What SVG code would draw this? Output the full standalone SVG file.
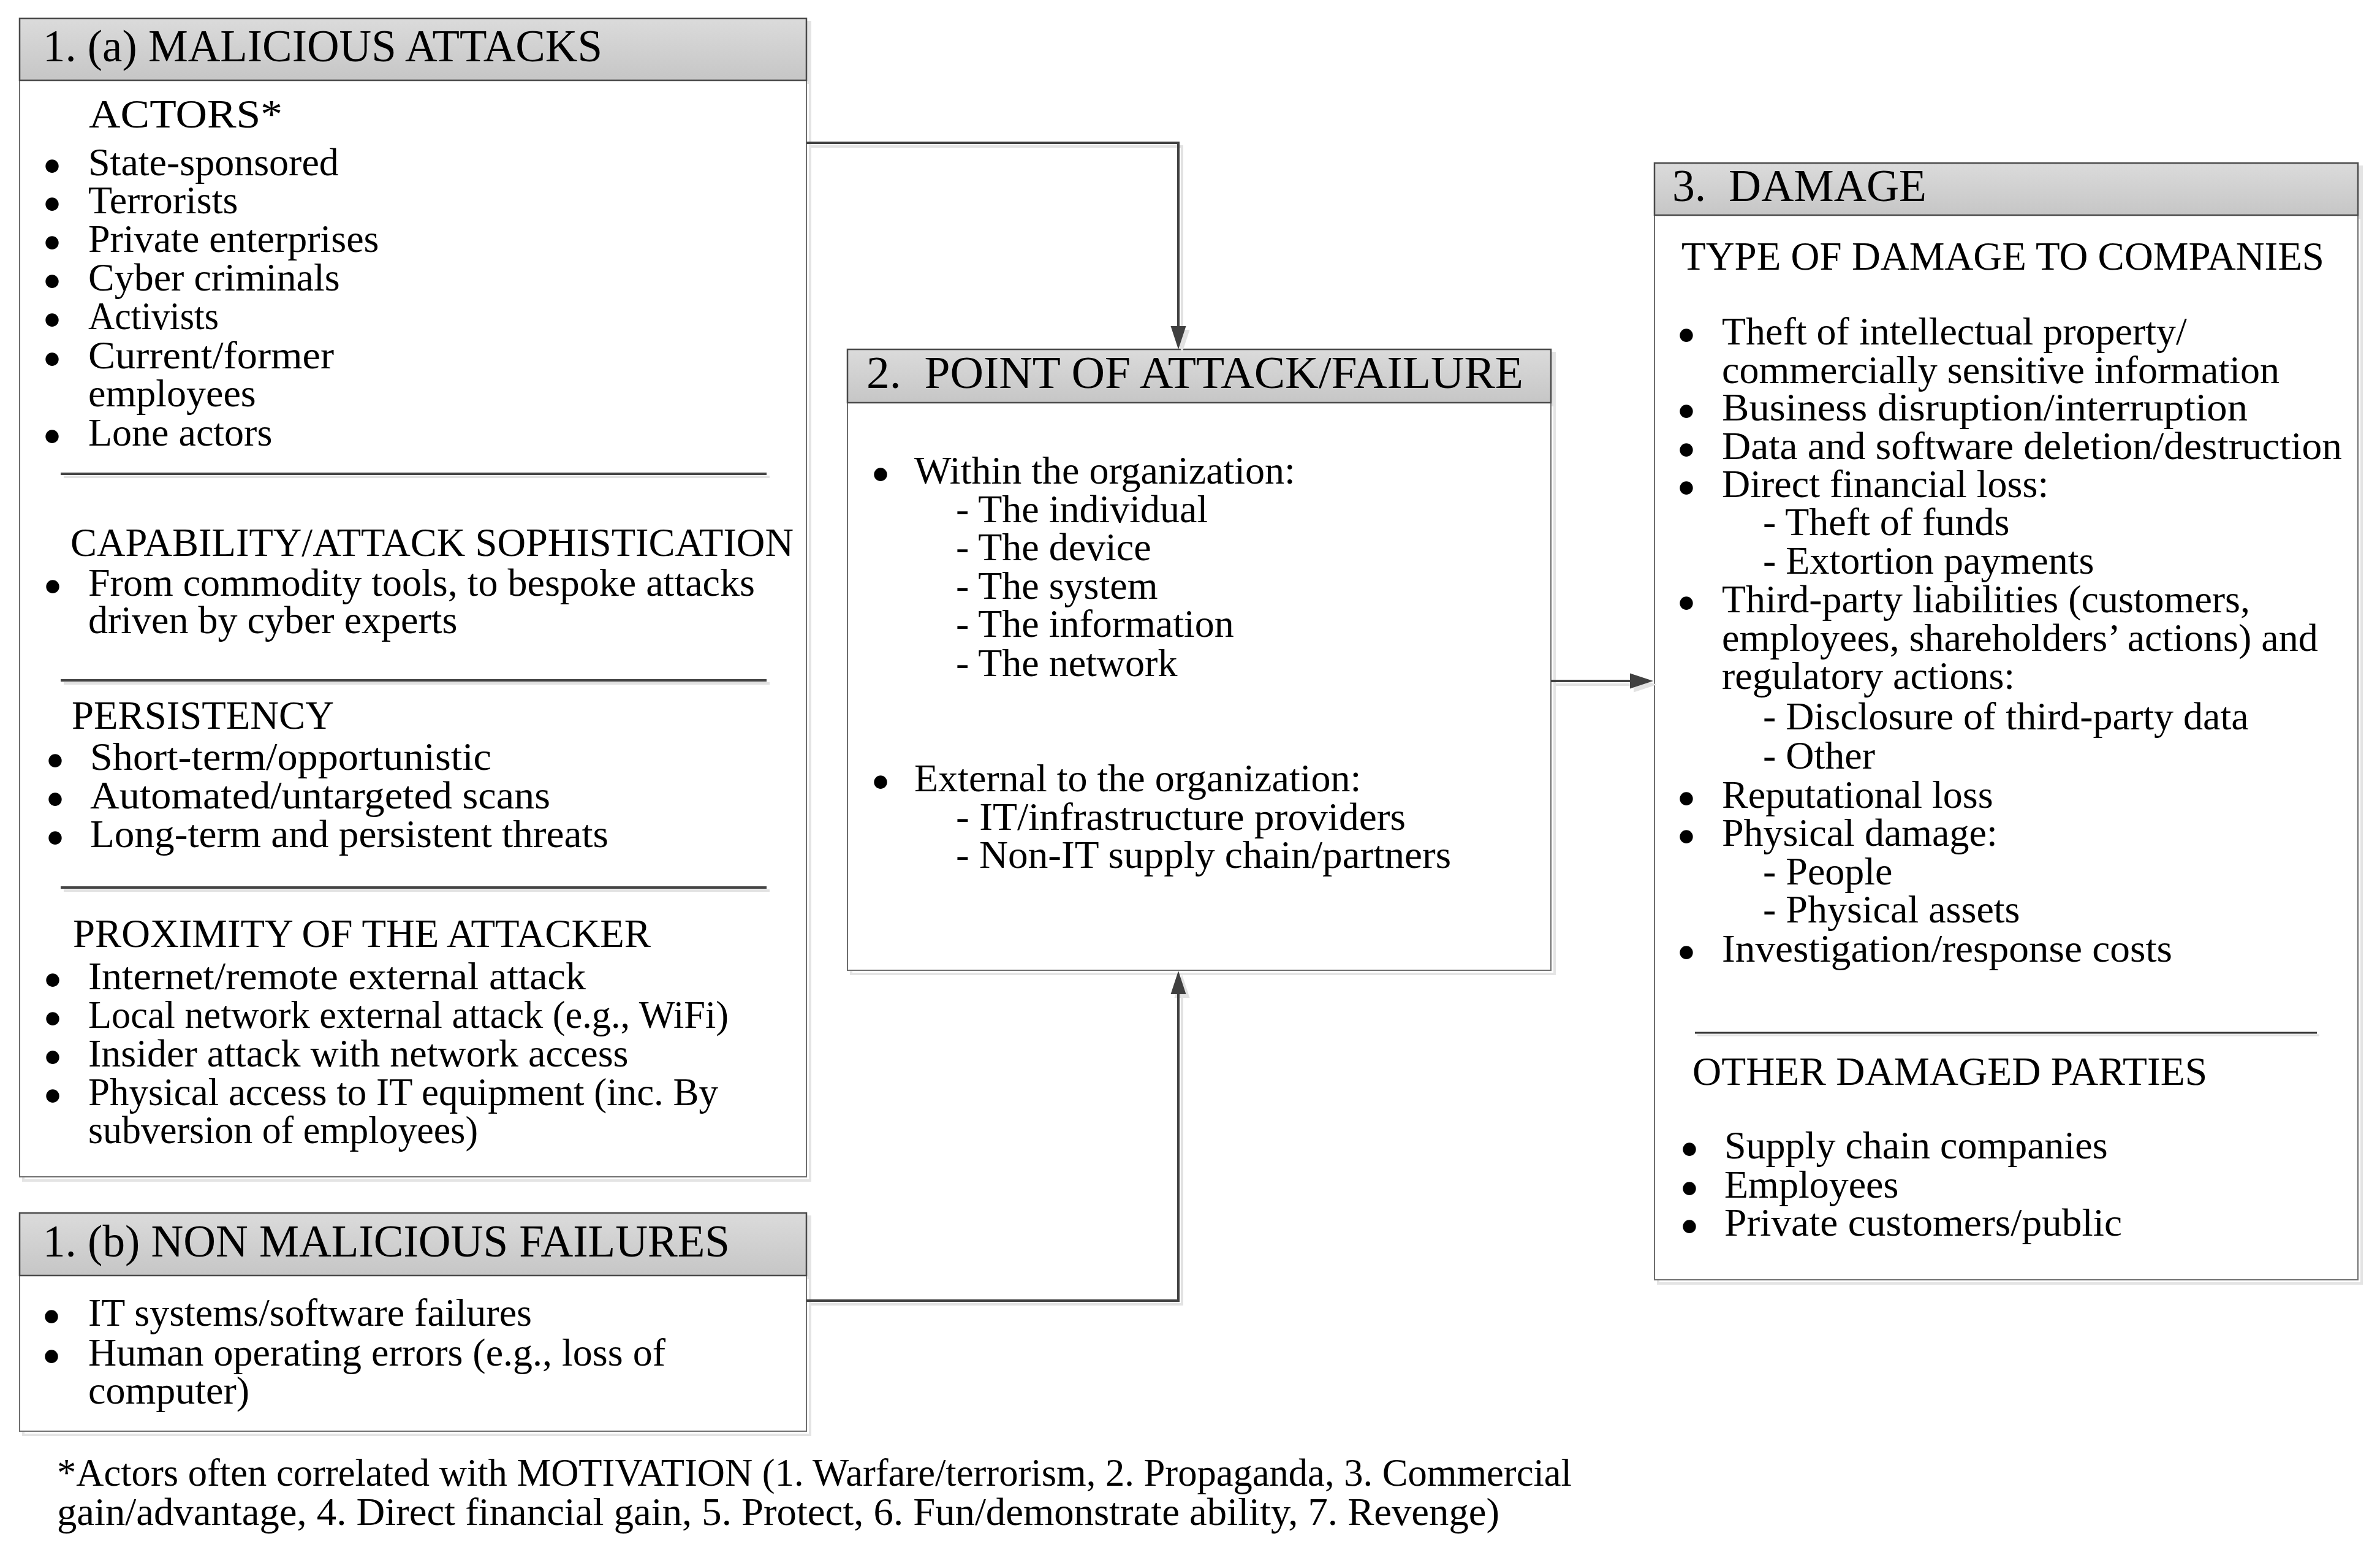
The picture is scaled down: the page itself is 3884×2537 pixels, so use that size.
<svg xmlns="http://www.w3.org/2000/svg" width="3884" height="2537" viewBox="0 0 3884 2537">
  <defs>
    <linearGradient id="hdr" x1="0" y1="0" x2="0" y2="1">
      <stop offset="0" stop-color="#dbdbdb"/>
      <stop offset="1" stop-color="#c6c6c6"/>
    </linearGradient>
    <marker id="arr" markerUnits="userSpaceOnUse" markerWidth="40" markerHeight="28" refX="0" refY="12.5" orient="auto" overflow="visible">
      <path d="M0,0 L38,12.5 L0,25 Z" fill="#404040"/>
    </marker>
    <marker id="arrs" markerUnits="userSpaceOnUse" markerWidth="40" markerHeight="28" refX="0" refY="12.5" orient="auto" overflow="visible">
      <path d="M0,0 L38,12.5 L0,25 Z" fill="#e2e2e2"/>
    </marker>
  </defs>
  <style>
    text { font-family: "Liberation Serif", "Times New Roman", serif; fill: #000; }
    .h { font-size: 73px; }
    .s { font-size: 65px; }
    .b { font-size: 64px; }
    .bul { font-size: 90px; text-anchor: middle; }
    .body { fill: #fff; stroke: #6e6e6e; stroke-width: 2; }
    .head { fill: url(#hdr); stroke: #4a4a4a; stroke-width: 2.5; }
    .shb { fill: none; stroke: #e4e4e4; stroke-width: 4; }
    .shh { fill: #e4e4e4; stroke: none; }
    .sep { stroke: #444; stroke-width: 4; }
    .seps { stroke: #e2e2e2; stroke-width: 4; }
    .con { fill: none; stroke: #404040; stroke-width: 4; }
    .cons { fill: none; stroke: #e2e2e2; stroke-width: 4; }
  </style>
  <rect width="3884" height="2537" fill="#fff"/>

  <g id="node-1a">
    <rect class="shb" x="38" y="36" width="1284" height="1890"/>
    <rect class="shh" x="38" y="36" width="1284" height="101"/>
    <rect class="body" x="32" y="30" width="1284" height="1890"/>
    <rect class="head" x="32" y="30" width="1284" height="101"/>
    <text class="h" x="70" y="100" textLength="913" lengthAdjust="spacingAndGlyphs">1. (a) MALICIOUS ATTACKS</text>
    <text class="s" x="145" y="208" textLength="316" lengthAdjust="spacingAndGlyphs">ACTORS*</text>
    <g class="b">
      <text class="bul" x="85" y="301">•</text><text x="144" y="286">State-sponsored</text>
      <text class="bul" x="85" y="363">•</text><text x="144" y="348">Terrorists</text>
      <text class="bul" x="85" y="426">•</text><text x="144" y="411">Private enterprises</text>
      <text class="bul" x="85" y="489">•</text><text x="144" y="474">Cyber criminals</text>
      <text class="bul" x="85" y="552">•</text><text x="144" y="537" textLength="213" lengthAdjust="spacingAndGlyphs">Activists</text>
      <text class="bul" x="85" y="616">•</text><text x="144" y="601" textLength="401" lengthAdjust="spacingAndGlyphs">Current/former</text>
      <text x="144" y="663">employees</text>
      <text class="bul" x="85" y="742">•</text><text x="144" y="727">Lone actors</text>
    </g>
    <line class="seps" x1="104" y1="778" x2="1256" y2="778"/>
    <line class="sep" x1="99" y1="773" x2="1251" y2="773"/>
    <text class="s" x="115" y="907" textLength="1180" lengthAdjust="spacingAndGlyphs">CAPABILITY/ATTACK SOPHISTICATION</text>
    <g class="b">
      <text class="bul" x="86" y="987">•</text><text x="144" y="972">From commodity tools, to bespoke attacks</text>
      <text x="144" y="1033">driven by cyber experts</text>
    </g>
    <line class="seps" x1="104" y1="1115" x2="1256" y2="1115"/>
    <line class="sep" x1="99" y1="1110" x2="1251" y2="1110"/>
    <text class="s" x="117" y="1189" textLength="428" lengthAdjust="spacingAndGlyphs">PERSISTENCY</text>
    <g class="b">
      <text class="bul" x="90" y="1271">•</text><text x="147" y="1256" textLength="655" lengthAdjust="spacingAndGlyphs">Short-term/opportunistic</text>
      <text class="bul" x="90" y="1334">•</text><text x="147" y="1319" textLength="751" lengthAdjust="spacingAndGlyphs">Automated/untargeted scans</text>
      <text class="bul" x="90" y="1397">•</text><text x="147" y="1382" textLength="846" lengthAdjust="spacingAndGlyphs">Long-term and persistent threats</text>
    </g>
    <line class="seps" x1="104" y1="1453" x2="1256" y2="1453"/>
    <line class="sep" x1="99" y1="1448" x2="1251" y2="1448"/>
    <text class="s" x="119" y="1545" textLength="943" lengthAdjust="spacingAndGlyphs">PROXIMITY OF THE ATTACKER</text>
    <g class="b">
      <text class="bul" x="86" y="1629">•</text><text x="144" y="1614" textLength="812" lengthAdjust="spacingAndGlyphs">Internet/remote external attack</text>
      <text class="bul" x="86" y="1692">•</text><text x="144" y="1677" textLength="1045" lengthAdjust="spacingAndGlyphs">Local network external attack (e.g., WiFi)</text>
      <text class="bul" x="86" y="1755">•</text><text x="144" y="1740">Insider attack with network access</text>
      <text class="bul" x="86" y="1818">•</text><text x="144" y="1803" textLength="1028" lengthAdjust="spacingAndGlyphs">Physical access to IT equipment (inc. By</text>
      <text x="144" y="1865" textLength="636" lengthAdjust="spacingAndGlyphs">subversion of employees)</text>
    </g>
  </g>

  <g id="node-1b">
    <rect class="shb" x="38" y="1985" width="1284" height="356"/>
    <rect class="shh" x="38" y="1985" width="1284" height="102"/>
    <rect class="body" x="32" y="1979" width="1284" height="356"/>
    <rect class="head" x="32" y="1979" width="1284" height="102"/>
    <text class="h" x="70" y="2050" textLength="1121" lengthAdjust="spacingAndGlyphs">1. (b) NON MALICIOUS FAILURES</text>
    <g class="b">
      <text class="bul" x="84" y="2178">•</text><text x="144" y="2163">IT systems/software failures</text>
      <text class="bul" x="84" y="2243">•</text><text x="144" y="2228">Human operating errors (e.g., loss of</text>
      <text x="144" y="2290">computer)</text>
    </g>
  </g>

  <g id="node-2">
    <rect class="shb" x="1389" y="576" width="1148" height="1013"/>
    <rect class="shh" x="1389" y="576" width="1148" height="87"/>
    <rect class="body" x="1383" y="570" width="1148" height="1013"/>
    <rect class="head" x="1383" y="570" width="1148" height="87"/>
    <text class="h" x="1414" y="633" xml:space="preserve" textLength="1072" lengthAdjust="spacingAndGlyphs">2.  POINT OF ATTACK/FAILURE</text>
    <g class="b">
      <text class="bul" x="1437" y="804">•</text><text x="1492" y="789">Within the organization:</text>
      <text x="1560" y="852">- The individual</text>
      <text x="1560" y="914">- The device</text>
      <text x="1560" y="977">- The system</text>
      <text x="1560" y="1039">- The information</text>
      <text x="1560" y="1103">- The network</text>
      <text class="bul" x="1437" y="1306">•</text><text x="1492" y="1291">External to the organization:</text>
      <text x="1560" y="1354" textLength="734" lengthAdjust="spacingAndGlyphs">- IT/infrastructure providers</text>
      <text x="1560" y="1416" textLength="808" lengthAdjust="spacingAndGlyphs">- Non-IT supply chain/partners</text>
    </g>
  </g>

  <g id="node-3">
    <rect class="shb" x="2706" y="272" width="1148" height="1822"/>
    <rect class="shh" x="2706" y="272" width="1148" height="85"/>
    <rect class="body" x="2700" y="266" width="1148" height="1822"/>
    <rect class="head" x="2700" y="266" width="1148" height="85"/>
    <text class="h" x="2729" y="328" xml:space="preserve" textLength="415" lengthAdjust="spacingAndGlyphs">3.  DAMAGE</text>
    <text class="s" x="2744" y="440" textLength="1049" lengthAdjust="spacingAndGlyphs">TYPE OF DAMAGE TO COMPANIES</text>
    <g class="b">
      <text class="bul" x="2752" y="577">•</text><text x="2810" y="562">Theft of intellectual property/</text>
      <text x="2810" y="625">commercially sensitive information</text>
      <text class="bul" x="2752" y="701">•</text><text x="2810" y="686" textLength="858" lengthAdjust="spacingAndGlyphs">Business disruption/interruption</text>
      <text class="bul" x="2752" y="764">•</text><text x="2810" y="749" textLength="1012" lengthAdjust="spacingAndGlyphs">Data and software deletion/destruction</text>
      <text class="bul" x="2752" y="826">•</text><text x="2810" y="811">Direct financial loss:</text>
      <text x="2877" y="873">- Theft of funds</text>
      <text x="2877" y="936">- Extortion payments</text>
      <text class="bul" x="2752" y="1014">•</text><text x="2810" y="999">Third-party liabilities (customers,</text>
      <text x="2810" y="1062">employees, shareholders’ actions) and</text>
      <text x="2810" y="1124">regulatory actions:</text>
      <text x="2877" y="1190">- Disclosure of third-party data</text>
      <text x="2877" y="1254">- Other</text>
      <text class="bul" x="2752" y="1333">•</text><text x="2810" y="1318">Reputational loss</text>
      <text class="bul" x="2752" y="1395">•</text><text x="2810" y="1380">Physical damage:</text>
      <text x="2877" y="1443">- People</text>
      <text x="2877" y="1505">- Physical assets</text>
      <text class="bul" x="2752" y="1584">•</text><text x="2810" y="1569" textLength="735" lengthAdjust="spacingAndGlyphs">Investigation/response costs</text>
    </g>
    <line x1="2770" y1="1689" x2="3785" y2="1689" stroke="#e2e2e2" stroke-width="3"/>
    <line x1="2766" y1="1685" x2="3781" y2="1685" stroke="#333" stroke-width="3"/>
    <text class="s" x="2762" y="1770" textLength="840" lengthAdjust="spacingAndGlyphs">OTHER DAMAGED PARTIES</text>
    <g class="b">
      <text class="bul" x="2757" y="1905">•</text><text x="2814" y="1890">Supply chain companies</text>
      <text class="bul" x="2757" y="1969">•</text><text x="2814" y="1954">Employees</text>
      <text class="bul" x="2757" y="2031">•</text><text x="2814" y="2016" textLength="649" lengthAdjust="spacingAndGlyphs">Private customers/public</text>
    </g>
  </g>

  <g id="footnote" class="b">
    <text x="93" y="2424" textLength="2472" lengthAdjust="spacingAndGlyphs">*Actors often correlated with MOTIVATION (1. Warfare/terrorism, 2. Propaganda, 3. Commercial</text>
    <text x="93" y="2488" textLength="2354" lengthAdjust="spacingAndGlyphs">gain/advantage, 4. Direct financial gain, 5. Protect, 6. Fun/demonstrate ability, 7. Revenge)</text>
  </g>

  <g id="connectors">
    <g transform="translate(6,6)">
      <path class="cons" d="M1318 233 H1923 V532" marker-end="url(#arrs)"/>
      <path class="cons" d="M1318 2122 H1923 V1622" marker-end="url(#arrs)"/>
      <path class="cons" d="M2533 1111 H2660" marker-end="url(#arrs)"/>
    </g>
    <path class="con" d="M1316 233 H1923 V532" marker-end="url(#arr)"/>
    <path class="con" d="M1316 2122 H1923 V1622" marker-end="url(#arr)"/>
    <path class="con" d="M2531 1111 H2660" marker-end="url(#arr)"/>
  </g>
</svg>
